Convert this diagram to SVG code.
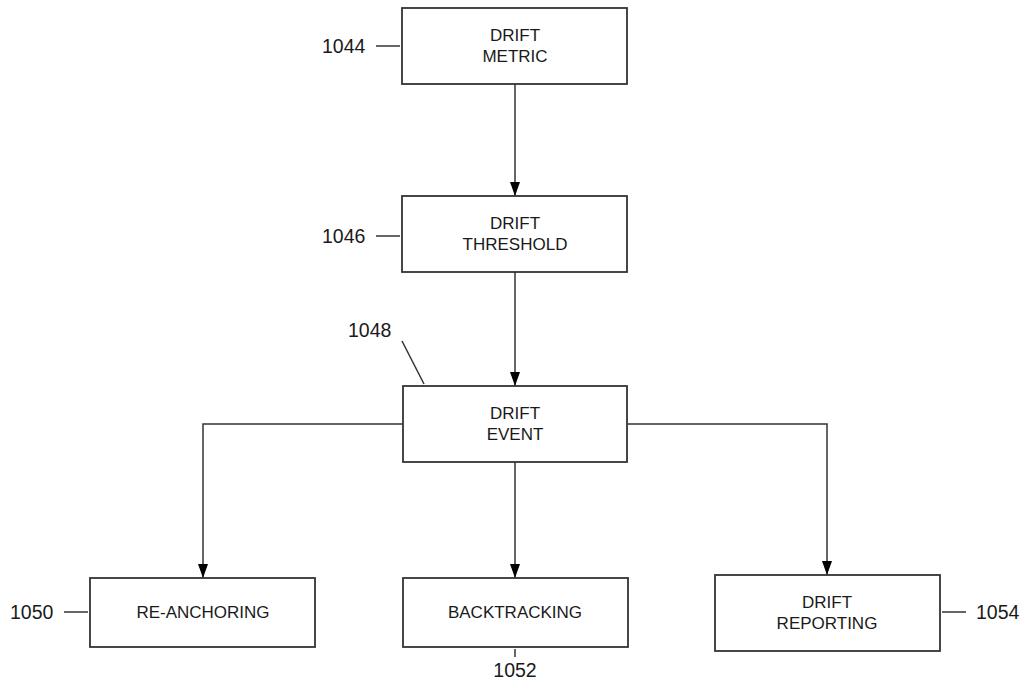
<svg xmlns="http://www.w3.org/2000/svg" width="1030" height="685" viewBox="0 0 1030 685">
<style>
.box{fill:#fff;stroke:#333;stroke-width:1.8}
.t{font-family:"Liberation Sans",Arial,sans-serif;font-size:17px;fill:#1a1a1a;text-anchor:middle}
.ref{font-family:"Liberation Sans",Arial,sans-serif;font-size:19.5px;fill:#1a1a1a}
.lead{stroke:#333;stroke-width:1.5;fill:none}
.conn{stroke:#333;stroke-width:1.5;fill:none;marker-end:url(#arr)}
</style>
<defs>
<marker id="arr" viewBox="0 0 14 10" refX="14" refY="5" markerWidth="14" markerHeight="10" markerUnits="userSpaceOnUse" orient="auto">
<path d="M0,0 L14,5 L0,10 Z" fill="#000"/>
</marker>
</defs>
<g id="connectors">
<path class="conn" d="M515,84 V196"/>
<path class="conn" d="M515,272 V386"/>
<path class="conn" d="M403,424 H203 V578"/>
<path class="conn" d="M515,462 V578"/>
<path class="conn" d="M627,424 H827 V575"/>
</g>
<g id="n1044">
<rect class="box" x="402" y="8" width="225" height="76"/>
<text class="t" x="515" y="41">DRIFT</text>
<text class="t" x="515" y="62">METRIC</text>
<line class="lead" x1="376" y1="46" x2="400" y2="46"/>
<text class="ref" x="322" y="53">1044</text>
</g>
<g id="n1046">
<rect class="box" x="402" y="196" width="225" height="76"/>
<text class="t" x="515" y="229">DRIFT</text>
<text class="t" x="515" y="250">THRESHOLD</text>
<line class="lead" x1="376" y1="236" x2="400" y2="236"/>
<text class="ref" x="322" y="243">1046</text>
</g>
<g id="n1048">
<rect class="box" x="403" y="386" width="224" height="76"/>
<text class="t" x="515" y="419">DRIFT</text>
<text class="t" x="515" y="440">EVENT</text>
<line class="lead" x1="402" y1="341" x2="424" y2="384"/>
<text class="ref" x="348" y="337">1048</text>
</g>
<g id="n1050">
<rect class="box" x="90" y="578" width="225" height="69"/>
<text class="t" x="203" y="618">RE-ANCHORING</text>
<line class="lead" x1="64" y1="612" x2="88" y2="612"/>
<text class="ref" x="10" y="619">1050</text>
</g>
<g id="n1052">
<rect class="box" x="403" y="578" width="225" height="69"/>
<text class="t" x="515" y="618">BACKTRACKING</text>
<line class="lead" x1="515" y1="649" x2="515" y2="657"/>
<text class="ref" x="515" y="677" text-anchor="middle">1052</text>
</g>
<g id="n1054">
<rect class="box" x="715" y="575" width="225" height="76"/>
<text class="t" x="827" y="608">DRIFT</text>
<text class="t" x="827" y="629">REPORTING</text>
<line class="lead" x1="942" y1="612" x2="966" y2="612"/>
<text class="ref" x="976" y="619">1054</text>
</g>
</svg>
